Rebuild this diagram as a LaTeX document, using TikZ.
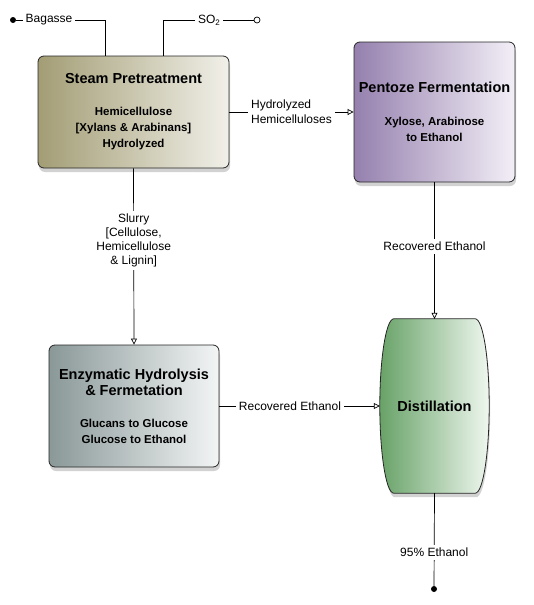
\documentclass[tikz,border=0pt]{standalone}
\usepackage{fontspec}
\setmainfont{Liberation Sans}
\usepackage{tikz}
\usetikzlibrary{arrows.meta,calc,shadows,backgrounds}
\definecolor{SPOliveDk} {HTML}{A39D75}
\definecolor{SPOliveLt} {HTML}{F1F0E9}
\definecolor{PFPurpleDk}{HTML}{9580AE}
\definecolor{PFPurpleLt}{HTML}{F3EFF7}
\definecolor{EHGrayDk}  {HTML}{8A9898}
\definecolor{EHGrayLt}  {HTML}{F3F5F5}
\definecolor{DSGreenDk} {HTML}{68A268}
\definecolor{DSGreenLt} {HTML}{EFF7EF}
\newcommand\proctitle[1]{{\fontsize{14.5}{16}\selectfont #1}}

\begin{document}
\begin{tikzpicture}[x=1pt,y=-1pt,
    procbox/.style={draw=black!85,line width=0.8pt,rounded corners=6pt,
      drop shadow={shadow xshift=1pt,shadow yshift=-4pt,opacity=0.35},
      align=center,inner sep=0pt,font=\fontsize{11.5}{16}\selectfont\bfseries},
    flow/.style={line width=0.7pt,-{Triangle[open,length=6pt,width=6pt]}},
    feed/.style={line width=0.7pt},
    lbl/.style={fill=white,inner sep=3pt,align=center,
      font=\fontsize{12}{14}\selectfont},
    feeddot/.style={circle,fill=black,inner sep=0pt,minimum size=6pt},
    feedring/.style={circle,draw=black,line width=0.7pt,fill=white,
      inner sep=0pt,minimum size=6pt}]
  \useasboundingbox (0,0) rectangle (534,605);

  % Process boxes
  \node[procbox,left color=SPOliveDk,right color=SPOliveLt,
    minimum width=191pt,minimum height=112pt] (steam) at (133.5,112)
    {\proctitle{Steam Pretreatment}\\[16pt]
     Hemicellulose\\{[}Xylans \& Arabinans{]}\\Hydrolyzed};

  \node[procbox,left color=PFPurpleDk,right color=PFPurpleLt,
    minimum width=161pt,minimum height=140pt] (pent) at (434.5,112)
    {\proctitle{Pentoze Fermentation}\\[17pt]
     Xylose, Arabinose\\to Ethanol};

  \node[procbox,left color=EHGrayDk,right color=EHGrayLt,
    minimum width=170pt,minimum height=122pt] (enz) at (134,406)
    {\proctitle{Enzymatic Hydrolysis}\\\proctitle{\& Fermetation}\\[16pt]
     Glucans to Glucose\\Glucose to Ethanol};

  % Distillation column
  \node[minimum width=109pt,minimum height=174pt,inner sep=0pt,
    font=\fontsize{14.5}{16}\selectfont\bfseries] (dist) at (434.5,406) {Distillation};
  \begin{scope}[on background layer]
    \fill[white] (0,0) rectangle (534,605);
    \path[draw=black!85,line width=0.8pt,left color=DSGreenDk,right color=DSGreenLt,
      drop shadow={shadow xshift=1pt,shadow yshift=-4pt,opacity=0.35}]
      ($(dist.north west)+(14,0)$) -- ($(dist.north east)+(-14,0)$)
      .. controls ($(dist.north east)+(-6,0)$) and ($(dist.east)+(0,-46)$) .. (dist.east)
      .. controls ($(dist.east)+(0,46)$) and ($(dist.south east)+(-6,0)$) .. ($(dist.south east)+(-14,0)$)
      -- ($(dist.south west)+(14,0)$)
      .. controls ($(dist.south west)+(6,0)$) and ($(dist.west)+(0,46)$) .. (dist.west)
      .. controls ($(dist.west)+(0,-46)$) and ($(dist.north west)+(6,0)$) .. cycle;
  \end{scope}

  % Feeds and product
  \node[feeddot]  (bag)  at (13,20) {};
  \node[feedring] (so2)  at (257,20) {};
  \node[feeddot]  (prod) at (434,589) {};

  \draw[feed] (bag) -| node[lbl,pos=0.185]{Bagasse} ([xshift=-28.5pt]steam.north);
  \draw[feed] (so2) -| node[lbl,pos=0.245]{SO\textsubscript{2}} ([xshift=29.5pt]steam.north);

  % Streams
  \draw[flow] (steam.east) -- node[lbl,align=left,
    font=\fontsize{12}{15}\selectfont]{Hydrolyzed\\Hemicelluloses} (pent.west);
  \draw[flow] (steam.south) -- node[lbl,pos=0.41]
    {Slurry\\{[}Cellulose,\\Hemicellulose\\\& Lignin{]}} (enz.north);
  \draw[flow] (enz.east) -- node[lbl,pos=0.44]{Recovered Ethanol} (dist.west);
  \draw[flow] (pent.south) -- node[lbl,pos=0.47]{Recovered Ethanol} (dist.north);
  \draw[feed] (dist.south) -- node[lbl,pos=0.64]{95\% Ethanol} (prod);
\end{tikzpicture}
\end{document}
